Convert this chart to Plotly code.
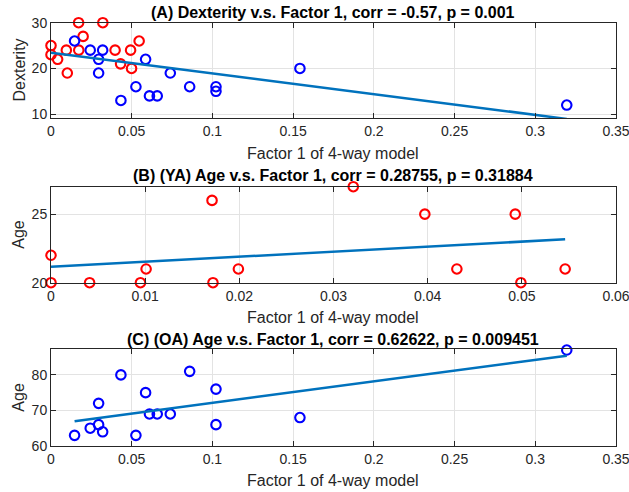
import numpy as np
import plotly.graph_objects as go

# ---------------- data ----------------
# Young adults (YA): factor-1 score, dexterity, age
ya_factor = [0.0, 0.0, 0.0041, 0.0095, 0.0101, 0.0171, 0.0172, 0.0199, 0.0321, 0.0397, 0.0431, 0.0493, 0.0499, 0.0546]
ya_dexterity = [25, 23, 22, 24, 19, 30, 24, 27, 30, 24, 21, 24, 20, 26]
ya_age = [22, 20, 20, 20, 21, 26, 20, 21, 27, 25, 21, 25, 20, 21]

# Older adults (OA): factor-1 score, dexterity, age
oa_factor = [0.0146, 0.0243, 0.0295, 0.0295, 0.0320, 0.0433, 0.0526, 0.0586, 0.0610, 0.0658, 0.0739, 0.0859, 0.1022, 0.1022, 0.1542, 0.3195]
oa_dexterity = [26, 24, 22, 19, 24, 13, 16, 22, 14, 14, 19, 16, 16, 15, 20, 12]
oa_age = [63, 65, 72, 66, 64, 80, 63, 75, 69, 69, 69, 81, 76, 66, 68, 87]

titles = [
    "(A) Dexterity v.s. Factor 1, corr = -0.57, p = 0.001",
    "(B) (YA) Age v.s. Factor 1, corr = 0.28755, p = 0.31884",
    "(C) (OA) Age v.s. Factor 1, corr = 0.62622, p = 0.009451",
]
x_label = "Factor 1 of 4-way model"
y_labels = ["Dexterity", "Age", "Age"]

xticks_ac = [0, 0.05, 0.1, 0.15, 0.2, 0.25, 0.3, 0.35]
xticks_b = [0, 0.01, 0.02, 0.03, 0.04, 0.05, 0.06]
yticks_a = [10, 20, 30]
yticks_b = [20, 25]
yticks_c = [60, 70, 80]

# ---------------- styling ----------------
W, H = 629, 492
RED = "#FF0000"
BLUE = "#0000FF"
FIT = "#0072BD"
AX = "#262626"
GRID = "#E3E3E3"
FONT = "Liberation Sans, Arial, Helvetica, sans-serif"

x0, x1 = 51, 616
boxes = [(22.7, 118.3), (186.7, 282.7), (349.3, 446.0)]  # top, bottom in px
title_y = [12.5, 175.5, 339.5]
xlab_y = [153, 317, 480]

fig = go.Figure()


def fitline(x, y):
    x = np.asarray(x, float)
    y = np.asarray(y, float)
    m, b = np.polyfit(x, y, 1)
    xs = np.array([x.min(), x.max()])
    return xs, m * xs + b


def circles(x, y, color, xa, ya):
    return go.Scatter(x=x, y=y, mode="markers", xaxis=xa, yaxis=ya,
                      marker=dict(symbol="circle-open", size=9.5, color=color,
                                  line=dict(width=2.1, color=color)),
                      cliponaxis=False, showlegend=False, hoverinfo="skip")


def line(x, y, xa, ya):
    return go.Scatter(x=x, y=y, mode="lines", xaxis=xa, yaxis=ya,
                      line=dict(color=FIT, width=2.5), cliponaxis=False,
                      showlegend=False, hoverinfo="skip")


# Panel A
fig.add_trace(circles(ya_factor, ya_dexterity, RED, "x", "y"))
fig.add_trace(circles(oa_factor, oa_dexterity, BLUE, "x", "y"))
fx, fy = fitline(ya_factor + oa_factor, ya_dexterity + oa_dexterity)
fig.add_trace(line(fx, fy, "x", "y"))
# Panel B
fig.add_trace(circles(ya_factor, ya_age, RED, "x2", "y2"))
fx, fy = fitline(ya_factor, ya_age)
fig.add_trace(line(fx, fy, "x2", "y2"))
# Panel C
fig.add_trace(circles(oa_factor, oa_age, BLUE, "x3", "y3"))
fx, fy = fitline(oa_factor, oa_age)
fig.add_trace(line(fx, fy, "x3", "y3"))

xdom = [x0 / W, x1 / W]


def ydom(top, bot):
    return [1 - bot / H, 1 - top / H]


def axis_common():
    return dict(showline=True, linecolor=AX, linewidth=1, mirror="ticks",
                ticks="inside", ticklen=5, tickwidth=1, tickcolor=AX,
                showgrid=True, gridcolor=GRID, gridwidth=1, zeroline=False,
                automargin=False, ticklabeloverflow="allow",
                tickfont=dict(family=FONT, size=14, color=AX), fixedrange=True)


def fmt(v):
    return "%g" % v


layout_axes = {}
xr = [[0, 0.35], [0, 0.06], [0, 0.35]]
xt = [xticks_ac, xticks_b, xticks_ac]
yr = [[9.1, 30.0], [20, 27], [60, 87.2]]
yt = [yticks_a, yticks_b, yticks_c]
for i in range(3):
    sx = "" if i == 0 else str(i + 1)
    xa = axis_common()
    xa.update(domain=xdom, range=xr[i], tickvals=xt[i],
              ticktext=[fmt(v) for v in xt[i]], anchor="y" + sx)
    ya = axis_common()
    ya.update(domain=ydom(*boxes[i]), range=yr[i], tickvals=yt[i],
              ticktext=[fmt(v) for v in yt[i]], anchor="x" + sx)
    layout_axes["xaxis" + sx] = xa
    layout_axes["yaxis" + sx] = ya

annotations = []
for i in range(3):
    top, bot = boxes[i]
    annotations.append(dict(text="<b>%s</b>" % titles[i], x=(x0 + x1) / 2 / W,
                            y=1 - title_y[i] / H, xref="paper", yref="paper",
                            xanchor="center", yanchor="middle", showarrow=False,
                            font=dict(family=FONT, size=16, color="#000000")))
    annotations.append(dict(text=x_label, x=(x0 + x1) / 2 / W,
                            y=1 - xlab_y[i] / H, xref="paper", yref="paper",
                            xanchor="center", yanchor="middle", showarrow=False,
                            font=dict(family=FONT, size=16, color=AX)))
    annotations.append(dict(text=y_labels[i], x=19 / W,
                            y=1 - (top + bot) / 2 / H, xref="paper", yref="paper",
                            xanchor="center", yanchor="middle", showarrow=False,
                            textangle=-90,
                            font=dict(family=FONT, size=16, color=AX)))

fig.update_layout(width=W, height=H, autosize=False,
                  margin=dict(l=0, r=0, t=0, b=0, autoexpand=False),
                  paper_bgcolor="white", plot_bgcolor="white",
                  annotations=annotations, showlegend=False, **layout_axes)

fig.write_html("out.html", config={"displayModeBar": False})
